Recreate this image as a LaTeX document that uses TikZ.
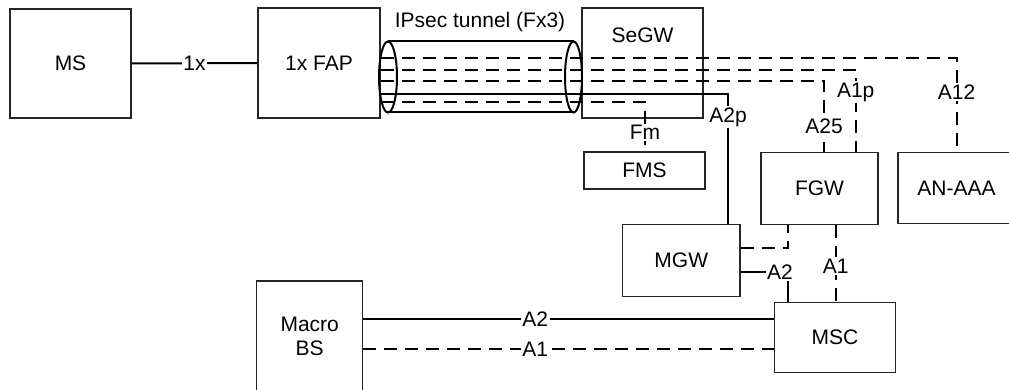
\documentclass[tikz,border=0pt]{standalone}
\usepackage{fontspec}
\setmainfont{Liberation Sans}
\begin{document}
\begin{tikzpicture}[x=1pt,y=-1pt,
  every node/.style={font=\fontsize{21}{24}\selectfont},
  box/.style={draw=black!85,line width=1.1pt,rectangle,inner sep=0pt,align=center},
  conn/.style={line width=2pt,black},
  dconn/.style={conn,dash pattern=on 13pt off 8pt},
  lab/.style={fill=white,inner sep=1.5pt},
  tube/.style={line width=2pt,black}]
\clip (0,0) rectangle (1009,390);
\fill[white] (0,0) rectangle (1009,390);
% boxes
\node[box,minimum width=121pt,minimum height=109pt] (ms) at (70.5,63.5) {MS};
\node[box,minimum width=122pt,minimum height=110pt] (fap) at (319,63) {1x FAP};
\node[box,minimum width=121pt,minimum height=110pt] (segw) at (642.5,63) {};
\node (segwlab) at (642.5,35) {SeGW};
\node[box,minimum width=121pt,minimum height=37pt] (fms) at (644.5,170.5) {FMS};
\node[box,minimum width=117pt,minimum height=72.5pt] (fgw) at (819.5,188.5) {FGW};
\node[box,minimum width=117pt,minimum height=71pt] (aaa) at (956.5,188) {AN-AAA};
\node[box,minimum width=117.3pt,minimum height=72.4pt] (mgw) at (681.3,260.5) {MGW};
\node[box,minimum width=121.4pt,minimum height=70pt] (msc) at (835,337.7) {MSC};
\node[box,minimum width=106pt,minimum height=110pt] (mbs) at (309.7,336) {Macro\\BS};
% tunnel
\node (tunlab) at (480,22) {IPsec tunnel (Fx3)};
\draw[tube] (388,41.5) -- (573.5,41.5);
\draw[tube] (388,112.5) -- (573.5,112.5);
\draw[tube] (388,77) ellipse [x radius=9pt,y radius=35.5pt];
\draw[tube] (573.5,77) ellipse [x radius=8.5pt,y radius=35.5pt];
% corner coordinates
\coordinate (c12) at (956.5,58);
\coordinate (c1p) at (855.7,70);
\coordinate (c25) at (824,81.5);
\coordinate (c2p) at (728,94);
\coordinate (cfm) at (645,102);
\coordinate (k1) at (788.3,248.3);
\coordinate (k2) at (788.3,272.3);
\coordinate (k3) at (835.7,272.3);
\coordinate (k4) at (0,319.3);
\coordinate (k5) at (0,349.3);
% connectors
\draw[conn] (ms.east) -- node[lab]{1x} (fap.west);
\draw[dconn] (fap.east |- c12) -- (c12) -- node[lab,pos=0.36]{A12} (c12 |- aaa.north);
\draw[dconn] (fap.east |- c1p) -- (c1p) -- node[lab,pos=0.27]{A1p} (c1p |- fgw.north);
\draw[dconn] (fap.east |- c25) -- (c25) -- node[lab,pos=0.635]{A25} (c25 |- fgw.north);
\draw[conn] (fap.east |- c2p) -- (c2p) -- node[lab,pos=0.18]{A2p} (c2p |- mgw.north);
\draw[dconn] (fap.east |- cfm) -- (cfm) -- node[lab,pos=0.62]{Fm} (cfm |- fms.north);
\draw[dconn] (mgw.east |- k1) -- (k1) -- (k1 |- fgw.south);
\draw[conn] (mgw.east |- k2) -- (k2) -- (k2 |- msc.north);
\node[lab] (a2lab) at (780,272) {A2};
\draw[dconn] (k3 |- fgw.south) -- node[lab,pos=0.53]{A1} (k3 |- msc.north);
\draw[conn] (mbs.east |- k4) -- node[lab,pos=0.419]{A2} (msc.west |- k4);
\draw[dconn] (mbs.east |- k5) -- node[lab,pos=0.419]{A1} (msc.west |- k5);
\end{tikzpicture}
\end{document}
